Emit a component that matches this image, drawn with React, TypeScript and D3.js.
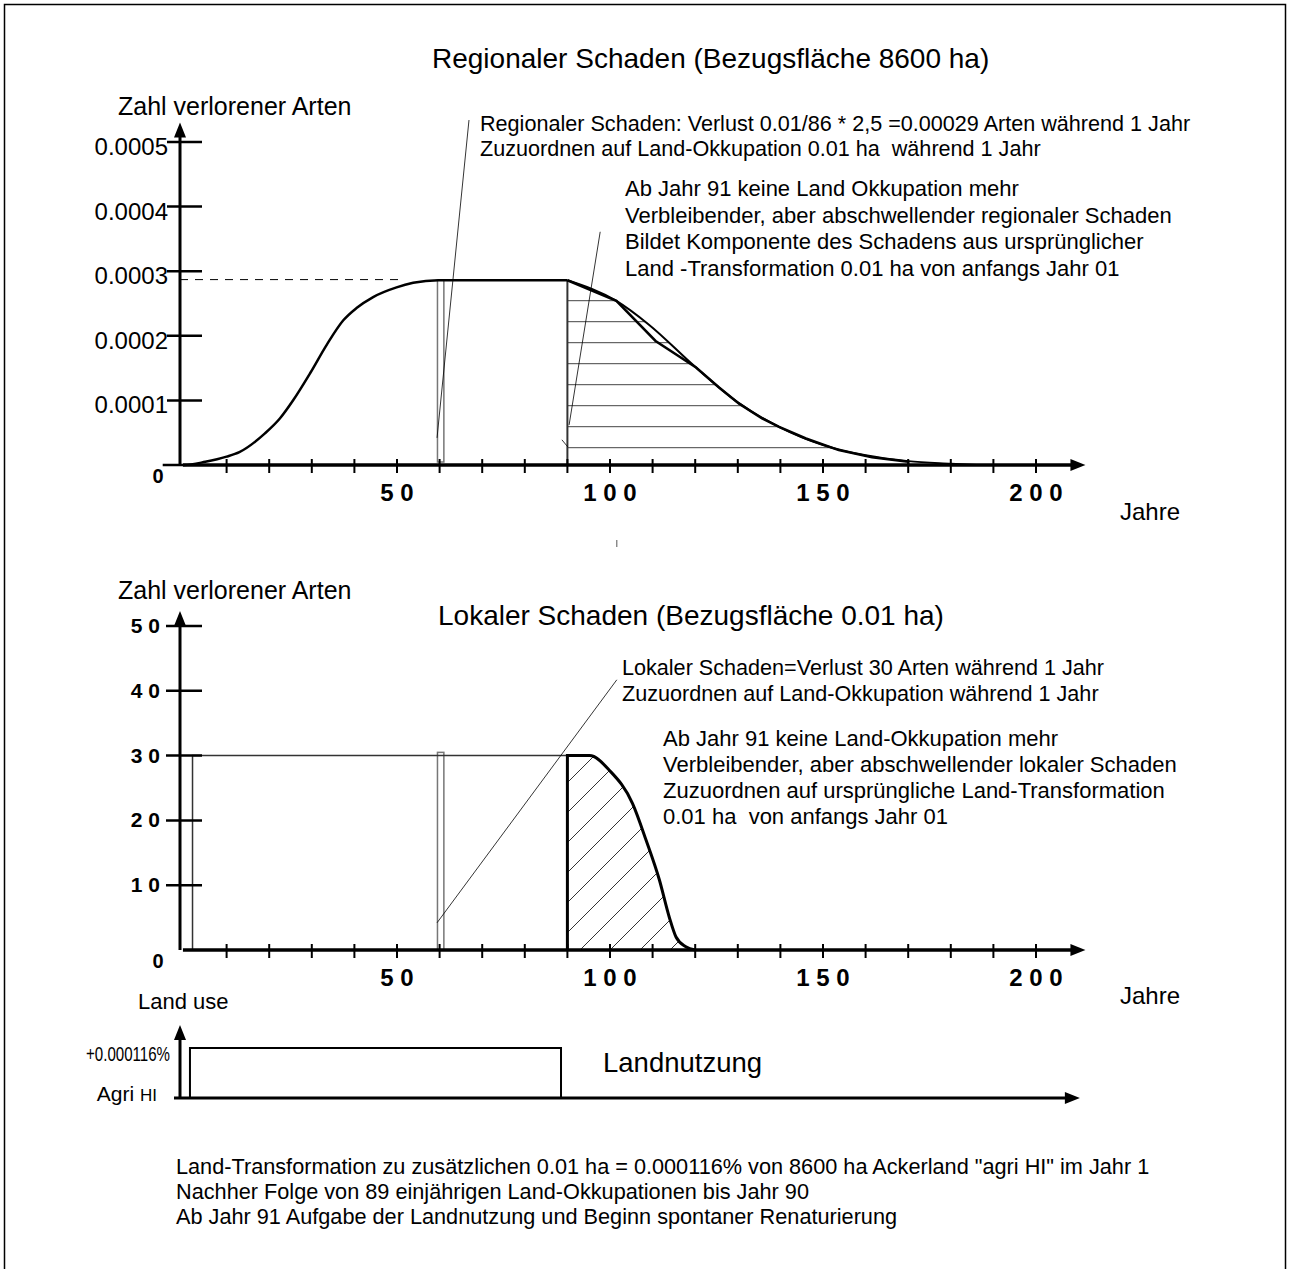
import React from "react";
import * as d3 from "d3";

const W = 1296;
const H = 1269;
const FONT = "'Liberation Sans', Arial, Helvetica, sans-serif";

// x axis (Jahre)
const yearTicks = [10, 20, 30, 40, 50, 60, 70, 80, 90, 100, 110, 120, 130, 140, 150, 160, 170, 180, 190, 200];
const yearLabels = [50, 100, 150, 200];

// regional damage (Zahl verlorener Arten)
const regionalTicks = [0.0001, 0.0002, 0.0003, 0.0004, 0.0005];
const regionalTickLabels = ["0.0001", "0.0002", "0.0003", "0.0004", "0.0005"];
const regionalPlateau = 0.000287;

const regionalRise: [number, number][] = [
  [-5, 0], [0, 0], [5, 0.000005], [10, 0.000013], [13, 0.00002], [19, 0.000049],
  [22.5, 0.000072], [25.7, 0.000101], [29.6, 0.000142], [33.5, 0.000186],
  [37.4, 0.000224], [40.5, 0.000243], [44.4, 0.00026], [49.9, 0.000275],
  [53.8, 0.000282], [59.7, 0.000286], [90, 0.000286],
];
const regionalDeclineSegments: [number, number][] = [
  [90, 0.000286], [101.5, 0.000254], [110.7, 0.000192], [120.2, 0.000151],
  [125.6, 0.00012], [130.3, 0.000095], [135.7, 0.000072], [139.7, 0.000059],
  [146, 0.000041], [153.7, 0.000023], [161.5, 0.000012], [170, 0.000005], [170, 0],
];
const regionalDeclineSmooth: [number, number][] = [
  [90, 0.000286], [101.5, 0.000254], [109, 0.000218], [120, 0.000152],
  [130, 0.000097], [140, 0.000058], [150, 0.000031], [160, 0.000015],
  [170, 0.000006], [180, 0.000002], [186, 0],
];
const regionalLeaders: [number, number][][] = [
  [[66.9, 0.000534], [59.4, 0.000042]],
  [[97.7, 0.000361], [90.4, 0.000062]],
  [[88.7, 0.000039], [90.1, 0.000028]],
];

// local damage
const localTicks = [10, 20, 30, 40, 50];
const localPlateau: [number, number][] = [[2, 0], [2, 30], [90, 30]];
const localDecline: [number, number][] = [
  [90, 0], [90, 30], [95.2, 30], [99.9, 27.7], [105.3, 22.6], [108.5, 16.9],
  [111.6, 10.8], [113.9, 5.1], [115.5, 2.0], [117.8, 0.5], [120, 0],
];
const localLeaders: [number, number][][] = [[[101.6, 41.7], [59.4, 4.2]]];

// markers at year 60
const markerBar = { start: 59.5, end: 61 };
const markerTopRegional = 0.000286;
const markerTopLocal = 30.5;

// land use
const landUseLevel = 0.000116;
const landUseStart = 1.4;
const landUseEnd = 88.5;

const regionalNotes1 = [
  "Regionaler Schaden: Verlust 0.01/86 * 2,5 =0.00029 Arten während 1 Jahr",
  "Zuzuordnen auf Land-Okkupation 0.01 ha  während 1 Jahr",
];
const regionalNotes2 = [
  "Ab Jahr 91 keine Land Okkupation mehr",
  "Verbleibender, aber abschwellender regionaler Schaden",
  "Bildet Komponente des Schadens aus ursprünglicher",
  "Land -Transformation 0.01 ha von anfangs Jahr 01",
];
const localNotes1 = [
  "Lokaler Schaden=Verlust 30 Arten während 1 Jahr",
  "Zuzuordnen auf Land-Okkupation während 1 Jahr",
];
const localNotes2 = [
  "Ab Jahr 91 keine Land-Okkupation mehr",
  "Verbleibender, aber abschwellender lokaler Schaden",
  "Zuzuordnen auf ursprüngliche Land-Transformation",
  "0.01 ha  von anfangs Jahr 01",
];
const footNotes = [
  "Land-Transformation zu zusätzlichen 0.01 ha = 0.000116% von 8600 ha Ackerland \"agri HI\" im Jahr 1",
  "Nachher Folge von 89 einjährigen Land-Okkupationen bis Jahr 90",
  "Ab Jahr 91 Aufgabe der Landnutzung und Beginn spontaner Renaturierung",
];

const spaced = (d: number) => String(d).split("").join(" ");
const PRE = { whiteSpace: "pre" as const };

function arrowUp(cx: number, tip: number) {
  return `${cx},${tip} ${cx - 6},${tip + 15} ${cx + 6},${tip + 15}`;
}
function arrowRight(tip: number, cy: number) {
  return `${tip},${cy} ${tip - 15},${cy - 6} ${tip - 15},${cy + 6}`;
}

export default function App() {
  const x = d3.scaleLinear().domain([0, 200]).range([184, 1036]);
  const yReg = d3.scaleLinear().domain([0, 0.0005]).range([465, 142]);
  const yLoc = d3.scaleLinear().domain([0, 50]).range([950, 626]);
  const yLand = d3.scaleLinear().domain([0, landUseLevel]).range([1098, 1048]);

  const axisX = x(0) - 4;
  const xEnd = x(211.6);

  const regLine = (curve: d3.CurveFactory) =>
    d3.line<[number, number]>().x((d) => x(d[0])).y((d) => yReg(d[1])).curve(curve);
  const locLine = (curve: d3.CurveFactory) =>
    d3.line<[number, number]>().x((d) => x(d[0])).y((d) => yLoc(d[1])).curve(curve);

  const regArea = d3
    .area<[number, number]>()
    .x((d) => x(d[0]))
    .y0(yReg(0))
    .y1((d) => yReg(d[1]))
    .curve(d3.curveMonotoneX);
  const locArea = d3
    .area<[number, number]>()
    .x((d) => x(d[0]))
    .y0(yLoc(0))
    .y1((d) => yLoc(d[1]))
    .curve(d3.curveMonotoneX);

  const leader = (pts: [number, number][], y: d3.ScaleLinear<number, number>, i: number) => (
    <line key={i} x1={x(pts[0][0])} y1={y(pts[0][1])} x2={x(pts[1][0])} y2={y(pts[1][1])} stroke="#000" strokeWidth={0.8} />
  );

  const xAxis = (y0: number, labelY: number) => (
    <g>
      <line x1={x(-0.25)} x2={xEnd - 10} y1={y0} y2={y0} stroke="#000" strokeWidth={3.5} />
      <polygon points={arrowRight(xEnd, y0)} fill="#000" />
      {yearTicks.map((t) => (
        <line key={t} x1={x(t)} x2={x(t)} y1={y0 - 6} y2={y0 + 8} stroke="#000" strokeWidth={2} />
      ))}
      {yearLabels.map((t) => (
        <text key={t} x={x(t)} y={labelY} textAnchor="middle" fontWeight="bold" fontSize={24} style={PRE}>
          {spaced(t)}
        </text>
      ))}
    </g>
  );

  return (
    <svg
      width={W}
      height={H}
      style={{ position: "absolute", left: 0, top: 0, background: "#fff" }}
      fontFamily={FONT}
    >
      <defs>
        <pattern id="hatchH" patternUnits="userSpaceOnUse" width={20} height={21}>
          <line x1={0} x2={20} y1={6.7} y2={6.7} stroke="#444" strokeWidth={1} />
        </pattern>
        <pattern id="hatchD" patternUnits="userSpaceOnUse" width={30} height={30}>
          <line x1={0} y1={30} x2={30} y2={0} stroke="#333" strokeWidth={1} />
          <line x1={-1} y1={1} x2={1} y2={-1} stroke="#333" strokeWidth={1} />
          <line x1={29} y1={31} x2={31} y2={29} stroke="#333" strokeWidth={1} />
        </pattern>
      </defs>

      <rect x={4.5} y={4.5} width={1281} height={1300} fill="none" stroke="#000" strokeWidth={1.5} />

      {/* ---------------- Regional chart ---------------- */}
      <text x={432} y={68} fontSize={28}>Regionaler Schaden (Bezugsfläche 8600 ha)</text>
      <text x={118} y={115} fontSize={25}>Zahl verlorener Arten</text>

      <path d={regArea(regionalDeclineSmooth) || ""} fill="url(#hatchH)" />

      <rect
        x={x(markerBar.start)}
        y={yReg(markerTopRegional)}
        width={x(markerBar.end) - x(markerBar.start)}
        height={yReg(0) - yReg(markerTopRegional) - 3}
        fill="#fff"
        stroke="#777"
        strokeWidth={1.5}
      />

      <line
        x1={axisX}
        x2={x(51.2)}
        y1={yReg(regionalPlateau)}
        y2={yReg(regionalPlateau)}
        stroke="#000"
        strokeWidth={1}
        strokeDasharray="8,7"
      />

      <line x1={x(90)} x2={x(90)} y1={yReg(0)} y2={yReg(regionalDeclineSmooth[0][1])} stroke="#333" strokeWidth={2} />
      <path d={regLine(d3.curveMonotoneX)(regionalRise) || ""} fill="none" stroke="#000" strokeWidth={2.5} />
      <path d={regLine(d3.curveLinear)(regionalDeclineSegments) || ""} fill="none" stroke="#000" strokeWidth={2.5} />
      <path d={regLine(d3.curveMonotoneX)(regionalDeclineSmooth) || ""} fill="none" stroke="#000" strokeWidth={2} />

      {regionalLeaders.map((l, i) => leader(l, yReg, i))}

      {/* y axis */}
      <line x1={axisX} x2={axisX} y1={yReg(0)} y2={yReg(0.00053) + 10} stroke="#000" strokeWidth={3} />
      <polygon points={arrowUp(axisX, yReg(0.00053))} fill="#000" />
      {regionalTicks.map((t, i) => (
        <g key={t}>
          <line x1={axisX - 13} x2={axisX + 22} y1={yReg(t)} y2={yReg(t)} stroke="#000" strokeWidth={2.5} />
          <text x={axisX - 12} y={yReg(t) + 13} textAnchor="end" fontSize={24}>
            {regionalTickLabels[i]}
          </text>
        </g>
      ))}
      <text x={158} y={483} textAnchor="middle" fontWeight="bold" fontSize={20}>0</text>
      {xAxis(yReg(0), 501)}
      <text x={1120} y={520} fontSize={24}>Jahre</text>

      {regionalNotes1.map((s, i) => (
        <text key={s} x={480} y={131 + i * 25} fontSize={21.6} style={PRE}>{s}</text>
      ))}
      {regionalNotes2.map((s, i) => (
        <text key={s} x={625} y={196 + i * 26.5} fontSize={22} style={PRE}>{s}</text>
      ))}

      <line x1={x(101.6)} x2={x(101.6)} y1={540} y2={547} stroke="#555" strokeWidth={1} />

      {/* ---------------- Local chart ---------------- */}
      <text x={118} y={599} fontSize={25}>Zahl verlorener Arten</text>
      <text x={438} y={625} fontSize={28}>Lokaler Schaden (Bezugsfläche 0.01 ha)</text>

      <path d={locArea(localDecline) || ""} fill="url(#hatchD)" />

      <rect
        x={x(markerBar.start)}
        y={yLoc(markerTopLocal)}
        width={x(markerBar.end) - x(markerBar.start)}
        height={yLoc(0) - yLoc(markerTopLocal)}
        fill="#fff"
        stroke="#777"
        strokeWidth={1.5}
      />
      <path d={locLine(d3.curveLinear)(localPlateau) || ""} fill="none" stroke="#333" strokeWidth={1.5} />
      <path d={locLine(d3.curveMonotoneX)(localDecline) || ""} fill="none" stroke="#000" strokeWidth={3} />

      {localLeaders.map((l, i) => leader(l, yLoc, i))}

      <line x1={axisX} x2={axisX} y1={yLoc(0)} y2={yLoc(52.3) + 10} stroke="#000" strokeWidth={3} />
      <polygon points={arrowUp(axisX, yLoc(52.3))} fill="#000" />
      {localTicks.map((t) => (
        <g key={t}>
          <line x1={axisX - 14} x2={axisX + 22} y1={yLoc(t)} y2={yLoc(t)} stroke="#000" strokeWidth={2.5} />
          <text x={160} y={yLoc(t) + 7} textAnchor="end" fontWeight="bold" fontSize={21} style={PRE}>
            {spaced(t)}
          </text>
        </g>
      ))}
      <text x={158} y={968} textAnchor="middle" fontWeight="bold" fontSize={20}>0</text>
      {xAxis(yLoc(0), 986)}
      <text x={1120} y={1004} fontSize={24}>Jahre</text>

      {localNotes1.map((s, i) => (
        <text key={s} x={622} y={675 + i * 26} fontSize={21.6} style={PRE}>{s}</text>
      ))}
      {localNotes2.map((s, i) => (
        <text key={s} x={663} y={746 + i * 26} fontSize={22} style={PRE}>{s}</text>
      ))}

      {/* ---------------- Land use ---------------- */}
      <text x={138} y={1009} fontSize={22}>Land use</text>
      <line x1={axisX} x2={axisX} y1={yLand(0)} y2={yLand(landUseLevel) - 8} stroke="#000" strokeWidth={3} />
      <polygon points={arrowUp(axisX, 1025)} fill="#000" />
      <line x1={axisX - 6} x2={x(210.3) - 10} y1={yLand(0)} y2={yLand(0)} stroke="#000" strokeWidth={3} />
      <polygon points={arrowRight(x(210.3), yLand(0))} fill="#000" />
      <path
        d={`M${x(landUseStart)},${yLand(0)}V${yLand(landUseLevel)}H${x(landUseEnd)}V${yLand(0)}`}
        fill="none"
        stroke="#000"
        strokeWidth={2}
      />
      <text x={170} y={1061} textAnchor="end" fontSize={20} textLength={84} lengthAdjust="spacingAndGlyphs">
        +0.000116%
      </text>
      <text x={157} y={1101} textAnchor="end" fontSize={21} style={PRE}>
        Agri <tspan fontSize={17}>HI</tspan>
      </text>
      <text x={603} y={1072} fontSize={27.5}>Landnutzung</text>

      {footNotes.map((s, i) => (
        <text key={s} x={176} y={1174 + i * 25} fontSize={21.7}>{s}</text>
      ))}
    </svg>
  );
}
